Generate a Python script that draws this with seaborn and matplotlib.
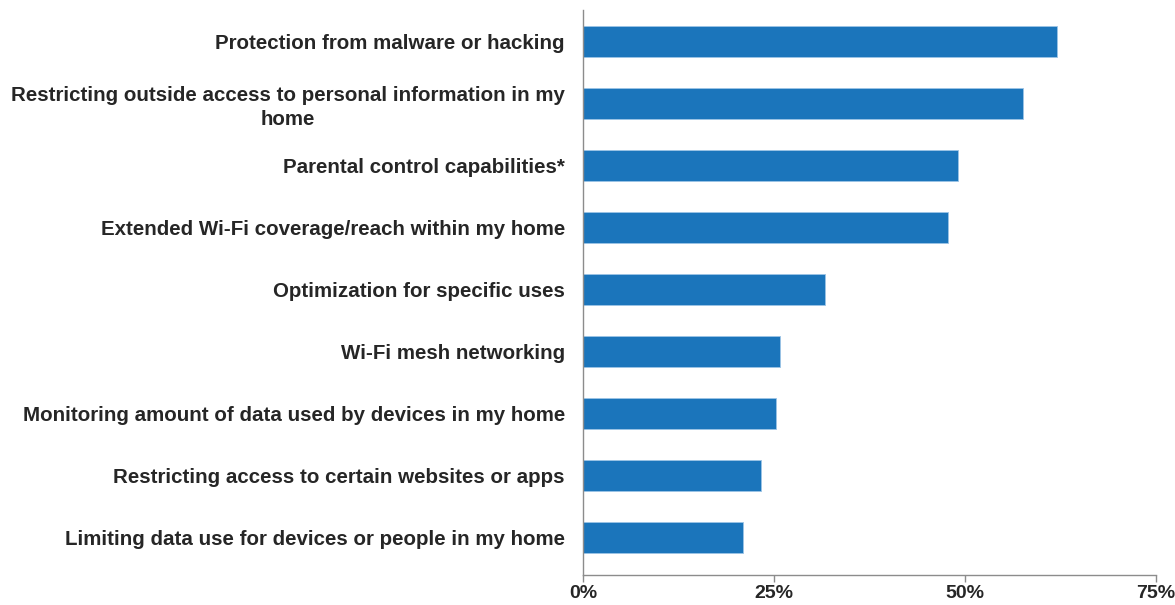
import matplotlib
matplotlib.use("Agg")
import matplotlib.pyplot as plt
import seaborn as sns
import pandas as pd
from matplotlib.ticker import FixedLocator

categories = [
    "Protection from malware or hacking",
    "Restricting outside access to personal information in my\nhome",
    "Parental control capabilities*",
    "Extended Wi-Fi coverage/reach within my home",
    "Optimization for specific uses",
    "Wi-Fi mesh networking",
    "Monitoring amount of data used by devices in my home",
    "Restricting access to certain websites or apps",
    "Limiting data use for devices or people in my home",
]
values = [62.0, 57.6, 49.1, 47.8, 31.7, 25.8, 25.2, 23.3, 21.0]
tick_values = [0, 25, 50, 75]
tick_labels = ["0%", "25%", "50%", "75%"]

sns.set_style("white")
plt.rcParams['font.family'] = ['Liberation Sans', 'DejaVu Sans']

df = pd.DataFrame({"feature": categories, "pct": values})

fig = plt.figure(figsize=(11.75, 6.05), dpi=100)
ax = fig.add_axes([583/1175, 1-575/605, (1156-583)/1175, (575-10)/605])
sns.barplot(data=df, x="pct", y="feature", orient="h", color="#1B75BB",
            saturation=1, width=0.5, ax=ax, edgecolor="#9cc4e6", linewidth=0.6)

ax.set_xlim(0, 75)
ax.set_ylim(8.6, -0.5)
ax.xaxis.set_major_locator(FixedLocator(tick_values))
ax.set_xticklabels(tick_labels, fontsize=14, fontweight="bold", color="#262626")
ax.set_yticks(range(len(categories)))
ax.set_yticklabels(categories, fontsize=14.8, fontweight="bold", color="#262626",
                   linespacing=1.3, multialignment="center")
ax.set_xlabel("")
ax.set_ylabel("")
for s in ["top", "right"]:
    ax.spines[s].set_visible(False)
for s in ["left", "bottom"]:
    ax.spines[s].set_visible(True)
    ax.spines[s].set_color("#8c8c8c")
    ax.spines[s].set_linewidth(1)
ax.tick_params(axis="x", bottom=True, length=5, width=1, color="#8c8c8c", pad=2, direction="out")
ax.tick_params(axis="y", left=False, pad=9.5)

fig.savefig("out.png", dpi=100)
